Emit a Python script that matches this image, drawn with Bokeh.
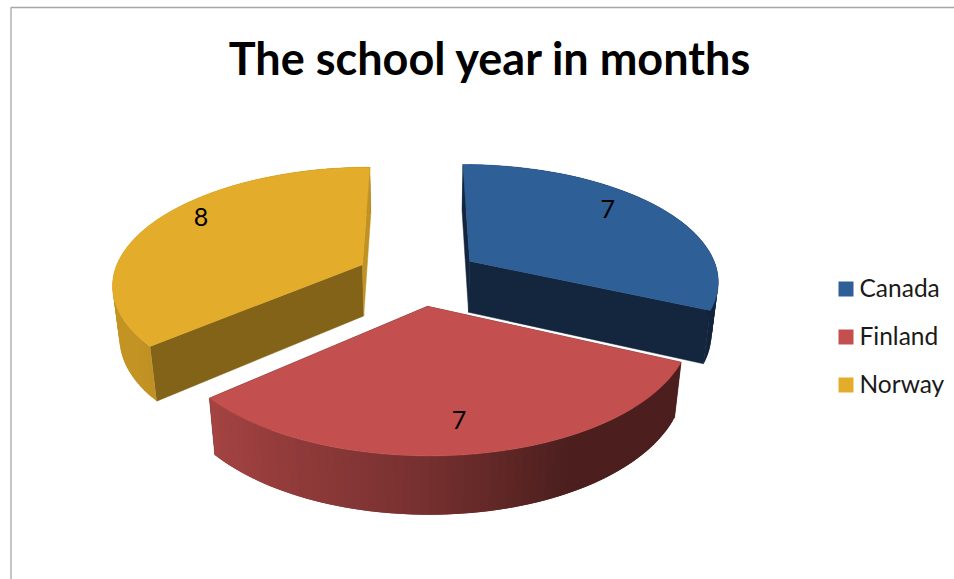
import math

from bokeh.core.properties import value
from bokeh.embed import file_html
from bokeh.models import ColumnDataSource
from bokeh.plotting import figure
from bokeh.resources import INLINE

# Chart content
TITLE = "The school year in months"
countries = ["Canada", "Finland", "Norway"]
months = [7, 7, 8]
top_colors = ["#2F5F97", "#C3504F", "#E3AC2A"]

# Flat shading of the two straight walls of each slice (start wall, end wall)
wall_shade = [(0.41, 0.41), (0.40, 0.40), (0.58, 0.85)]
# Position of each value label inside its slice: radius and turn from the mid-angle
label_radius = [0.80, 0.80, 0.85]
label_turn = [-6.0, 0.9, 7.7]

# Camera of the exploded 3-D pie
CX, CY = 417.8, 276.0
SCALE_X, SCALE_Y = 249.5, 116.0
PERSPECTIVE = 0.155
EXPLODE = 0.25
DEPTH_PX = 53.0
DEPTH_W = 0.023
STEPS_PER_SLICE = 70


def project(x, y, lower=False):
    """Project a point on the pie plane to page pixels; lower selects the underside."""
    w = 1 + PERSPECTIVE * y + (DEPTH_W if lower else 0.0)
    drop = DEPTH_PX if lower else 0.0
    return CX + SCALE_X * x / w, CY - (SCALE_Y * y - drop) / w


def shade(color, factor):
    r, g, b = (int(color[i:i + 2], 16) for i in (1, 3, 5))
    return "#{:02x}{:02x}{:02x}".format(int(r * factor), int(g * factor), int(b * factor))


def arc_shade(theta):
    # Rim brightness falls off from left to right and levels out on the right
    u = math.sin(theta)
    if u < 0:
        return min(0.86, 0.60 - 0.32 * u)
    return max(0.39, 0.60 - 0.45 * u)


def draw_walls(fig, walls, apex, color):
    xs, ys, fills = [], [], []
    for (rx, ry), factor in walls:
        corners = [project(*apex), project(rx, ry), project(rx, ry, True), project(*apex, True)]
        xs.append([c[0] for c in corners])
        ys.append([c[1] for c in corners])
        fills.append(shade(color, factor))
    if xs:
        fig.patches(xs="x", ys="y", source=ColumnDataSource(dict(x=xs, y=ys, c=fills)),
                    fill_color="c", line_color="c", line_width=0.5)


p = figure(
    width=954, height=579, x_range=(0, 954), y_range=(579, 0),
    output_backend="svg", toolbar_location=None, min_border=0,
    outline_line_color=None, background_fill_color="white",
)
p.axis.visible = False
p.grid.visible = False

# Chart area border: only the top and left edges fall inside the page
p.line([954, 10.5, 10.5], [7, 7, 579], line_color="#A6A6A6", line_width=1.3)

total = sum(months)
bounds = []
running = 0.0
for m in months:
    bounds.append((running / total * 2 * math.pi, (running + m) / total * 2 * math.pi))
    running += m

# Back slices are painted first so that the front slice overlaps them
for i in (2, 0, 1):
    start, end = bounds[i]
    mid = (start + end) / 2
    ox, oy = EXPLODE * math.sin(mid), EXPLODE * math.cos(mid)
    color = top_colors[i]

    angles = [start + (end - start) * k / STEPS_PER_SLICE for k in range(STEPS_PER_SLICE + 1)]
    rim = [(ox + math.sin(a), oy + math.cos(a)) for a in angles]

    # Walls ending on the near half of the rim sit under the curved wall,
    # walls ending on the far half sit over it
    ends = [(start, rim[0], wall_shade[i][0]), (end, rim[-1], wall_shade[i][1])]
    near = [(pt, f) for a, pt, f in ends if math.cos(a) < 0]
    far = [(pt, f) for a, pt, f in ends if math.cos(a) >= 0]

    draw_walls(p, near, (ox, oy), color)

    # Curved outer wall: narrow strips that each run on under the next one,
    # which leaves no hairline gaps between neighbouring shades
    xs, ys, fills = [], [], []
    for k in range(STEPS_PER_SLICE):
        a, b = rim[k], rim[min(k + 2, STEPS_PER_SLICE)]
        corners = [project(*a), project(*b), project(*b, True), project(*a, True)]
        xs.append([c[0] for c in corners])
        ys.append([c[1] for c in corners])
        fills.append(shade(color, arc_shade((angles[k] + angles[k + 1]) / 2)))
    p.patches(xs="x", ys="y", source=ColumnDataSource(dict(x=xs, y=ys, c=fills)),
              fill_color="c", line_color=None)

    draw_walls(p, far, (ox, oy), color)

    # Top face
    outline = [project(ox, oy)] + [project(*pt) for pt in rim]
    p.patch([c[0] for c in outline], [c[1] for c in outline],
            fill_color=color, line_color=color, line_width=0.5)

# Value labels on the slices
for i in range(len(months)):
    start, end = bounds[i]
    mid = (start + end) / 2
    ox, oy = EXPLODE * math.sin(mid), EXPLODE * math.cos(mid)
    a = mid + math.radians(label_turn[i])
    lx, ly = project(ox + label_radius[i] * math.sin(a), oy + label_radius[i] * math.cos(a))
    p.text([lx], [ly], text=[str(months[i])], text_font=value("Lato"),
           text_font_size="25px", text_color="#000000",
           text_align="center", text_baseline="middle")

# Title
p.text([490], [57], text=[TITLE], text_font=value("Lato"), text_font_size="45px",
       text_font_style="bold", text_color="#000000",
       text_align="center", text_baseline="middle")

# Legend
LEGEND_X, LEGEND_Y, LEGEND_GAP, SWATCH = 845.5, 288.5, 48.0, 15
for i, name in enumerate(countries):
    y = LEGEND_Y + LEGEND_GAP * i
    p.rect([LEGEND_X], [y], width=SWATCH, height=SWATCH, fill_color=top_colors[i], line_color=None)
    p.text([859], [y - 2], text=[name], text_font=value("Lato"), text_font_size="24.5px",
           text_color="#1A1A1A", text_align="left", text_baseline="middle")

open("out.html", "w").write(file_html(p, INLINE))
